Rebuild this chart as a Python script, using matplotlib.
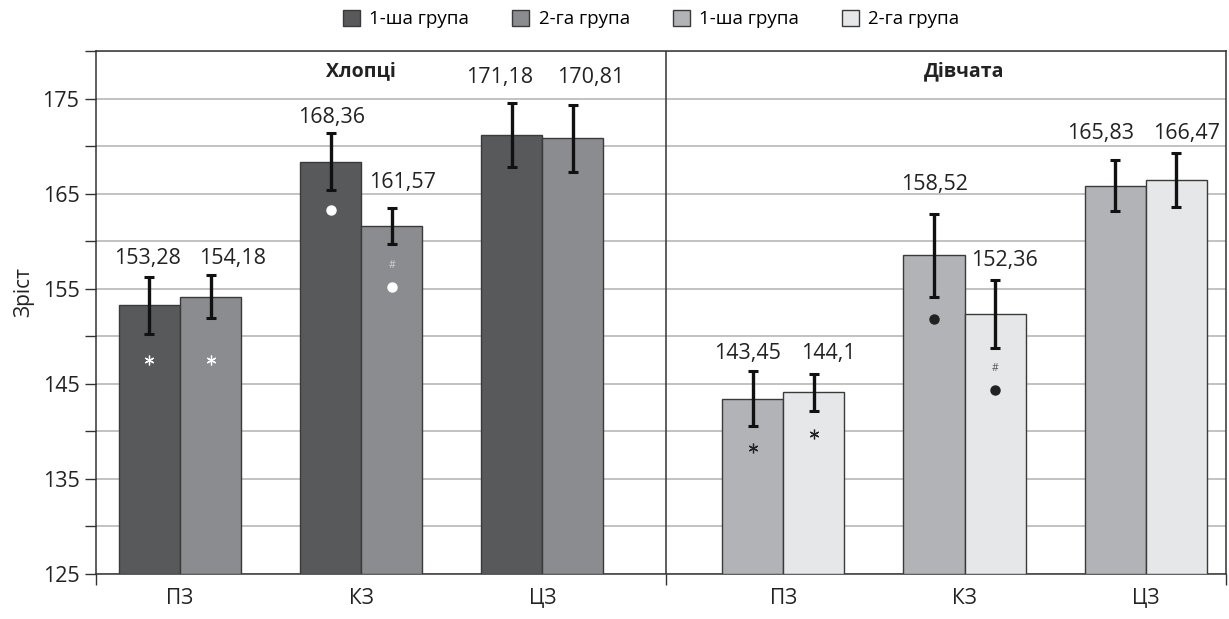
import numpy as np
import matplotlib
matplotlib.use('Agg')
import matplotlib.pyplot as plt
from matplotlib.patches import Patch

plt.rcParams['font.family'] = ['Open Sans', 'DejaVu Sans']

# Zones and mean height per group
categories = ['ПЗ', 'КЗ', 'ЦЗ']
boys_g1 = [153.28, 168.36, 171.18]
boys_g2 = [154.18, 161.57, 170.81]
girls_g1 = [143.45, 158.52, 165.83]
girls_g2 = [144.1, 152.36, 166.47]

# Standard deviations (error bars)
boys_g1_err = [3.0, 3.0, 3.35]
boys_g2_err = [2.3, 1.87, 3.55]
girls_g1_err = [2.85, 4.36, 2.68]
girls_g2_err = [1.95, 3.58, 2.83]

legend_labels = ['1-ша група', '2-га група', '1-ша група', '2-га група']
panel_titles = ['Хлопці', 'Дівчата']

# Significance marks: (series, zone, symbol, height)
marks = [
    ('boys_g1', 0, '*', 147.5), ('boys_g2', 0, '*', 147.5),
    ('boys_g1', 1, 'o', 163.3), ('boys_g2', 1, '#', 157.4), ('boys_g2', 1, 'o', 155.2),
    ('girls_g1', 0, '*', 138.3), ('girls_g2', 0, '*', 139.7),
    ('girls_g1', 1, 'o', 151.8), ('girls_g2', 1, '#', 146.6), ('girls_g2', 1, 'o', 144.4),
]

colors = ['#58595b', '#8b8c8f', '#b2b3b6', '#e6e7e8']
edge = '#3a3a3a'

fig = plt.figure(figsize=(12.29, 6.19), dpi=100)
ax = fig.add_axes([96 / 1229, 45 / 619, 1130 / 1229, 523 / 619])

width = 0.337
boys_x = 0.4636 + np.arange(len(categories))
girls_x = 3.793 + np.arange(len(categories))
divider = 3.146

series = {
    'boys_g1': (boys_x - width / 2, boys_g1, boys_g1_err, colors[0]),
    'boys_g2': (boys_x + width / 2, boys_g2, boys_g2_err, colors[1]),
    'girls_g1': (girls_x - width / 2, girls_g1, girls_g1_err, colors[2]),
    'girls_g2': (girls_x + width / 2, girls_g2, girls_g2_err, colors[3]),
}

# label baselines and small horizontal nudges (pixels) so pairs don't collide
label_base = {
    'boys_g1': [157.6, 172.4, 176.6], 'boys_g2': [157.6, 165.6, 176.6],
    'girls_g1': [147.6, 165.4, 170.7], 'girls_g2': [147.6, 157.4, 170.7],
}
label_dx = {
    'boys_g1': [-1.5, 1, -12], 'boys_g2': [22, 11, 18],
    'girls_g1': [-5, 0, -15], 'girls_g2': [15, 9, 10],
}

for key, (xs, vals, errs, col) in series.items():
    ax.bar(xs, np.array(vals) - 125, width, bottom=125, color=col,
           edgecolor=edge, linewidth=1, zorder=3)
    ax.errorbar(xs, vals, yerr=errs, fmt='none', ecolor='#111111',
                elinewidth=2.4, capsize=3.4, capthick=2.2, zorder=4)
    for x, v, yb, dx in zip(xs, vals, label_base[key], label_dx[key]):
        ax.annotate(f'{v:g}'.replace('.', ','), xy=(x, yb), xytext=(dx * 0.72, 0),
                    textcoords='offset points', ha='center', va='baseline',
                    fontsize=15.5, color='#222222', zorder=5)

for key, zone, sym, yy in marks:
    x = series[key][0][zone]
    on_dark = key.startswith('boys')
    c = 'white' if on_dark else '#222222'
    if sym == 'o':
        ax.plot(x, yy, 'o', color=c, markersize=6.5, zorder=5)
    elif sym == '*':
        ax.plot(x, yy, marker=(6, 2, 0), color=c, markersize=7,
                markeredgewidth=0.9, linestyle='none', zorder=5)
    else:
        ax.text(x, yy, '#', ha='center', va='center', fontsize=7.5,
                color='#d0d0d0' if on_dark else '#555555', zorder=5)

# axes, grid and ticks
ax.set_xlim(0, 6.236)
ax.set_ylim(125, 180)
ax.set_yticks(np.arange(125, 176, 10))
ax.set_yticks(np.arange(130, 181, 10), minor=True)
ax.yaxis.grid(True, which='both', color='#bdbdbd', linewidth=1.3, zorder=0)
ax.set_axisbelow(True)
ax.tick_params(axis='y', which='both', direction='out', length=8, width=1,
               color='#333333', labelsize=15.5, labelcolor='#222222', pad=4)
ax.set_xticks([0, divider, 6.236])
ax.set_xticklabels([])
ax.tick_params(axis='x', direction='out', length=8, width=1, color='#333333')
for s in ax.spines.values():
    s.set_color('#333333')
    s.set_linewidth(1.1)
ax.axvline(divider, color='#333333', linewidth=1.1, zorder=2)

for xs in (boys_x, girls_x):
    for x, name in zip(xs, categories):
        ax.annotate(name, xy=(x, 0), xycoords=('data', 'axes fraction'),
                    xytext=(0, -17.3), textcoords='offset points',
                    ha='center', va='center', fontsize=15, color='#222222')

for x, title in zip((boys_x[1], girls_x[1]), panel_titles):
    ax.text(x, 177.9, title, ha='center', va='center', fontsize=14,
            fontweight='bold', color='#222222')

fig.text(0.019, 0.528, 'Зріст', rotation=90, ha='center', va='center',
         fontsize=15, color='#222222')

handles = [Patch(facecolor=c, edgecolor=edge, linewidth=1) for c in colors]
fig.legend(handles, legend_labels, ncol=4, loc='center',
           bbox_to_anchor=(0.53, 0.969), frameon=False, fontsize=13.5,
           handlelength=0.9, handleheight=0.9, handletextpad=0.5,
           columnspacing=2.3)

fig.savefig('out.png', dpi=100)
